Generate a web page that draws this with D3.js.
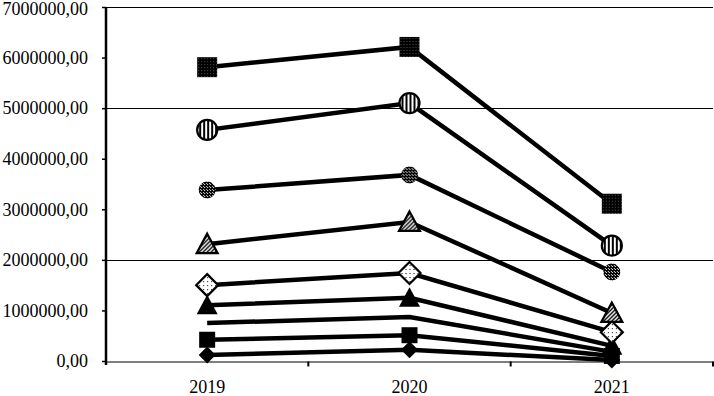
<!DOCTYPE html>
<meta charset="utf-8">
<head>
  <script src="https://d3js.org/d3.v7.min.js"></script>
  <style>
    body { margin: 0; background: #fff; }
    text { font-family: "Liberation Serif", "Times New Roman", serif; fill: #000; }
  </style>
</head>
<body>
<div id="display"></div>
<script>
  // data
  var years = ["2019", "2020", "2021"];
  var s1 = [5810000, 6210000, 3110000];
  var s2 = [4570000, 5100000, 2280000];
  var s3 = [3380000, 3680000, 1760000];
  var s4 = [2310000, 2750000, 950000];
  var s5 = [1500000, 1740000, 570000];
  var s6 = [1100000, 1250000, 300000];
  var s7 = [750000, 870000, 180000];
  var s8 = [420000, 510000, 100000];
  var s9 = [120000, 220000, 20000];
  var yTicks = [0, 1000000, 2000000, 3000000, 4000000, 5000000, 6000000, 7000000];
  var gridValues = [2000000, 5000000, 7000000];

  var series = [
    {values: s1, shape: "square", size: 20, fill: "url(#pDark)", stroke: "none"},
    {values: s2, shape: "circle", size: 20, fill: "url(#pVert)", stroke: "#000"},
    {values: s3, shape: "circle", size: 17, fill: "url(#pCheck)", stroke: "none"},
    {values: s4, shape: "triangle", size: 21, fill: "url(#pDiag)", stroke: "#000"},
    {values: s5, shape: "diamond", size: 22, fill: "url(#pDots)", stroke: "#000"},
    {values: s6, shape: "triangle", size: 21, fill: "#000", stroke: "none"},
    {values: s7, shape: "none"},
    {values: s8, shape: "square", size: 16, fill: "#000", stroke: "none"},
    {values: s9, shape: "diamond", size: 17, fill: "#000", stroke: "none"}
  ];

  var width = 714, height = 396;
  var margin = {top: 7, right: 1, bottom: 35, left: 106};

  var svg = d3.select("#display").append("svg")
      .attr("width", width)
      .attr("height", height);

  // marker fill patterns
  var defs = svg.append("defs");
  var pd = defs.append("pattern").attr("id", "pDark").attr("patternUnits", "userSpaceOnUse")
      .attr("width", 3).attr("height", 3);
  pd.append("rect").attr("width", 3).attr("height", 3).attr("fill", "#000");
  pd.append("rect").attr("width", 1).attr("height", 1).attr("fill", "#555");

  var pv = defs.append("pattern").attr("id", "pVert").attr("patternUnits", "userSpaceOnUse")
      .attr("width", 4).attr("height", 4);
  pv.append("rect").attr("width", 4).attr("height", 4).attr("fill", "#fff");
  pv.append("rect").attr("width", 2).attr("height", 4).attr("fill", "#000");

  var pc = defs.append("pattern").attr("id", "pCheck").attr("patternUnits", "userSpaceOnUse")
      .attr("width", 3).attr("height", 3);
  pc.append("rect").attr("width", 3).attr("height", 3).attr("fill", "#000");
  pc.append("rect").attr("width", 1).attr("height", 1).attr("fill", "#fff");
  pc.append("rect").attr("x", 2).attr("y", 2).attr("width", 1).attr("height", 1).attr("fill", "#ddd");

  var pg = defs.append("pattern").attr("id", "pDiag").attr("patternUnits", "userSpaceOnUse")
      .attr("width", 4).attr("height", 4);
  pg.append("rect").attr("width", 4).attr("height", 4).attr("fill", "#fff");
  pg.append("path").attr("d", "M-1,5 L5,-1 M-1,1 L1,-1 M3,5 L5,3").attr("stroke", "#000").attr("stroke-width", 1.4);

  var pt = defs.append("pattern").attr("id", "pDots").attr("patternUnits", "userSpaceOnUse")
      .attr("width", 4).attr("height", 4);
  pt.append("rect").attr("width", 4).attr("height", 4).attr("fill", "#fff");
  pt.append("rect").attr("width", 1).attr("height", 1).attr("fill", "#000");

  var x = d3.scaleBand()
      .domain(years)
      .range([margin.left, width - margin.right]);

  var y = d3.scaleLinear()
      .domain([0, 7000000])
      .range([height - margin.bottom, margin.top]);

  // gridlines
  svg.append("g")
    .selectAll("line")
    .data(gridValues)
    .enter()
    .append("line")
      .attr("x1", margin.left)
      .attr("x2", width - margin.right)
      .attr("y1", function(d) { return Math.round(y(d)) + 0.5; })
      .attr("y2", function(d) { return Math.round(y(d)) + 0.5; })
      .attr("stroke", "#000")
      .attr("stroke-width", 1);

  // y axis
  var yAxis = svg.append("g")
      .attr("transform", "translate(" + margin.left + ",0)")
      .call(d3.axisLeft(y)
        .tickValues(yTicks)
        .tickSize(4)
        .tickPadding(14)
        .tickFormat(function(d) { return d3.format(".2f")(d).replace(".", ","); }));
  yAxis.select(".domain").attr("stroke-width", 2.5).attr("d", "M0," + y(7000000) + "V" + (y(0) + 4));
  yAxis.selectAll(".tick line").attr("stroke-width", 1.5);
  yAxis.selectAll("text").style("font-size", "18px").style("font-family", "Liberation Serif, serif");
  // first label sits against the top edge as in the original
  yAxis.selectAll(".tick text").filter(function(d) { return d == 7000000; }).attr("dy", "0.42em");

  // x axis
  var xAxis = svg.append("g")
      .attr("transform", "translate(0," + (Math.round(y(0)) + 0.5) + ")")
      .call(d3.axisBottom(x).tickSize(0).tickPadding(19));
  xAxis.select(".domain").attr("stroke-width", 1.2);
  xAxis.selectAll("text").style("font-size", "18px").style("font-family", "Liberation Serif, serif");
  xAxis.append("g")
    .selectAll("line")
    .data(years)
    .enter()
    .append("line")
      .attr("x1", function(d) { return x(d) + x.bandwidth(); })
      .attr("x2", function(d) { return x(d) + x.bandwidth(); })
      .attr("y1", 0)
      .attr("y2", 5)
      .attr("stroke", "#000")
      .attr("stroke-width", 2);

  var cx = function(i) { return x(years[i]) + x.bandwidth() / 2; };

  var line = d3.line()
      .x(function(d, i) { return cx(i); })
      .y(function(d) { return y(d); });

  // lines
  svg.append("g")
    .selectAll("path")
    .data(series)
    .enter()
    .append("path")
      .attr("d", function(d) { return line(d.values); })
      .attr("fill", "none")
      .attr("stroke", "#000")
      .attr("stroke-width", 4.5);

  function markerPath(shape, s) {
    var h = s / 2;
    if (shape == "square") return "M" + (-h) + "," + (-h) + "h" + s + "v" + s + "h" + (-s) + "Z";
    if (shape == "diamond") return "M0," + (-h) + "L" + h + ",0L0," + h + "L" + (-h) + ",0Z";
    if (shape == "triangle") return "M0," + (-h) + "L" + h + "," + (h * 0.85) + "L" + (-h) + "," + (h * 0.85) + "Z";
    return d3.symbol().type(d3.symbolCircle).size(Math.PI * h * h)();
  }

  // markers, bottom series drawn first
  series.slice().reverse().forEach(function(sr) {
    if (sr.shape == "none") return;
    svg.append("g")
      .selectAll("path")
      .data(sr.values)
      .enter()
      .append("path")
        .attr("transform", function(d, i) { return "translate(" + cx(i) + "," + y(d) + ")"; })
        .attr("d", markerPath(sr.shape, sr.size))
        .attr("fill", sr.fill)
        .attr("stroke", sr.stroke)
        .attr("stroke-width", 2.2);
  });
</script>
</body>
